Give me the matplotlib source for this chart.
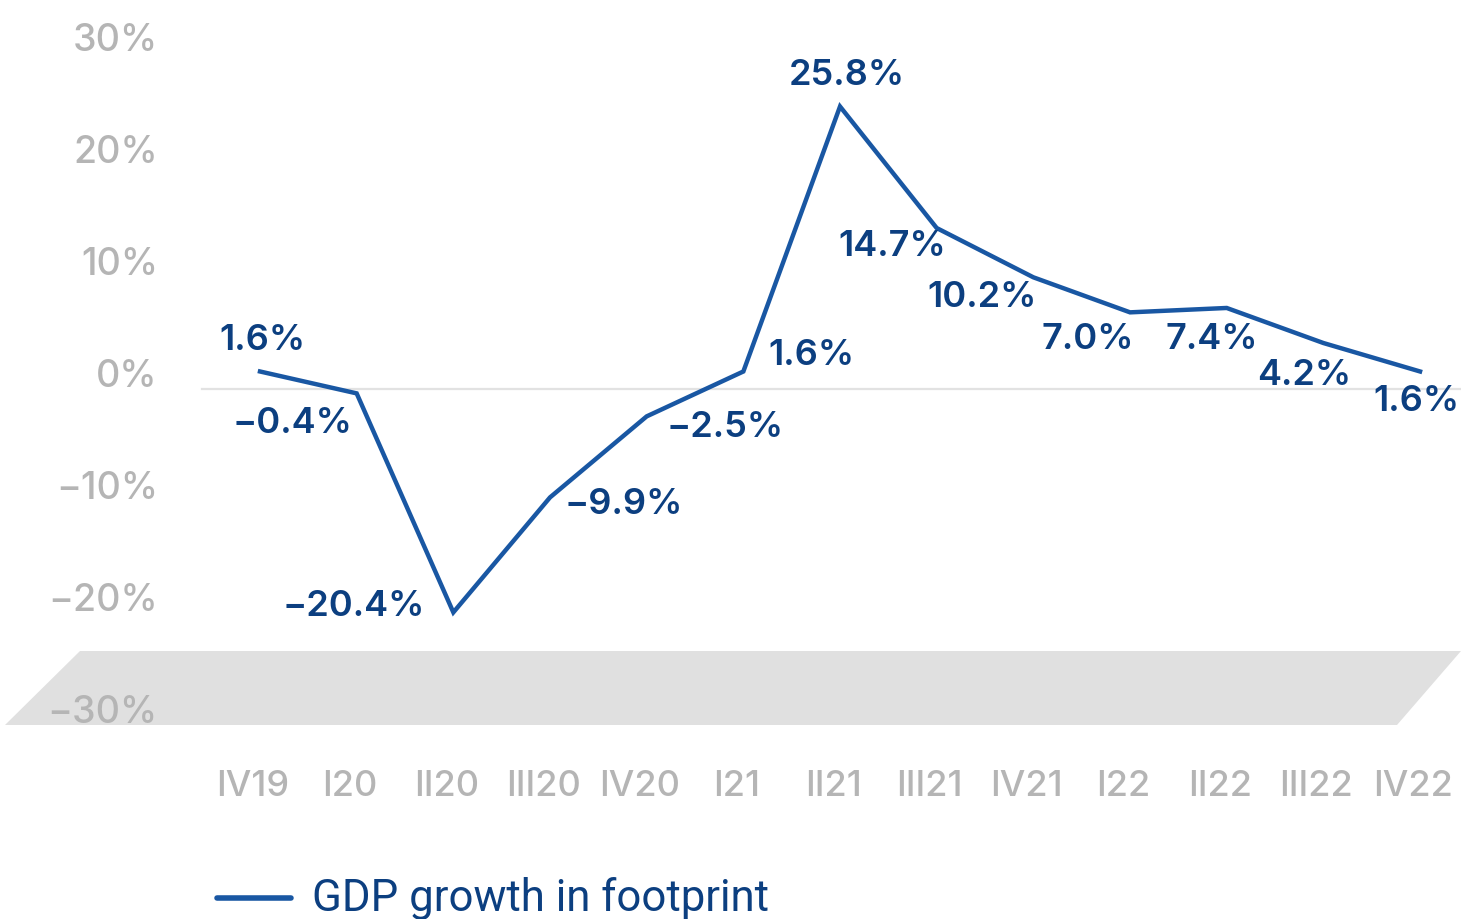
import numpy as np
import matplotlib.pyplot as plt

quarters = ['IV19', 'I20', 'II20', 'III20', 'IV20', 'I21', 'II21',
            'III21', 'IV21', 'I22', 'II22', 'III22', 'IV22']
gdp_growth = [1.6, -0.4, -20.4, -9.9, -2.5, 1.6, 25.8,
              14.7, 10.2, 7.0, 7.4, 4.2, 1.6]
y_ticks = [30, 20, 10, 0, -10, -20, -30]

# label offsets in pixels (dx, dy) from each point
label_offsets = [(2, 31), (-64, -30), (-100, 6), (74, -7), (78, -11), (68, 16),
                 (7, 31), (-44, -18), (-51, -20), (-42, -27), (-15, -32),
                 (-19, -32), (-4, -30)]

line_color = '#1957a3'
label_color = '#0c3f80'
grey = '#b5b5b5'

W, H = 1461, 919
x0_px, dx_px = 260, 96.67      # first category position and spacing
zero_px, unit_px = 389, 10.95  # zero line row and pixels per percent

fig = plt.figure(figsize=(W / 100, H / 100), dpi=100)
ax = fig.add_axes([0, 0, 1, 1])
ax.set_xlim((0 - x0_px) / dx_px, (W - x0_px) / dx_px)
ax.set_ylim((zero_px - H) / unit_px, zero_px / unit_px)
ax.axis('off')

def px_x(p):
    return (p - x0_px) / dx_px

def px_y(p):
    return (zero_px - p) / unit_px

x = np.arange(len(quarters))

# grey floor band
floor = plt.Polygon([(px_x(80), px_y(651)), (px_x(1461), px_y(651)),
                     (px_x(1397), px_y(725)), (px_x(5), px_y(725))],
                    closed=True, color='#e0e0e0', lw=0, zorder=0)
ax.add_patch(floor)

# zero line
ax.plot([px_x(202), px_x(W)], [0, 0], color='#e2e2e2', lw=1.6, zorder=1)

ax.plot(x, gdp_growth, color=line_color, lw=3.2, solid_joinstyle='miter', zorder=3)

def fmt(v):
    return ('\u2212' if v < 0 else '') + f'{abs(v):.1f}%'

for xi, v, (ox, oy) in zip(x, gdp_growth, label_offsets):
    ax.annotate(fmt(v), (xi, v), xytext=(ox, oy), textcoords='offset pixels',
                ha='center', va='center', fontsize=26, fontweight='semibold',
                family='Inter', color=label_color, zorder=4)

# y axis labels
for v in y_ticks:
    ypx = 377 - v * 11.2
    lab = ('\u2212' if v < 0 else '') + f'{abs(v)}%'
    ax.text(px_x(158), px_y(ypx), lab, ha='right', va='center',
            fontsize=27, fontweight='medium', family='Inter', color=grey,
            zorder=2)

# x axis labels
for xi, q in zip(x, quarters):
    ax.annotate(q, (xi, px_y(786)), xytext=(-7, 0), textcoords='offset pixels',
                ha='center', va='center', fontsize=26, fontweight='medium',
                family='Inter', color=grey)

# legend
ax.plot([px_x(217), px_x(291)], [px_y(898), px_y(898)], color=line_color,
        lw=4, solid_capstyle='round', clip_on=False)
ax.text(px_x(312), px_y(911), 'GDP growth in footprint', ha='left',
        va='baseline', fontsize=31.5, family='Roboto', fontweight='normal',
        color=label_color)

fig.savefig('out.png', dpi=100)
